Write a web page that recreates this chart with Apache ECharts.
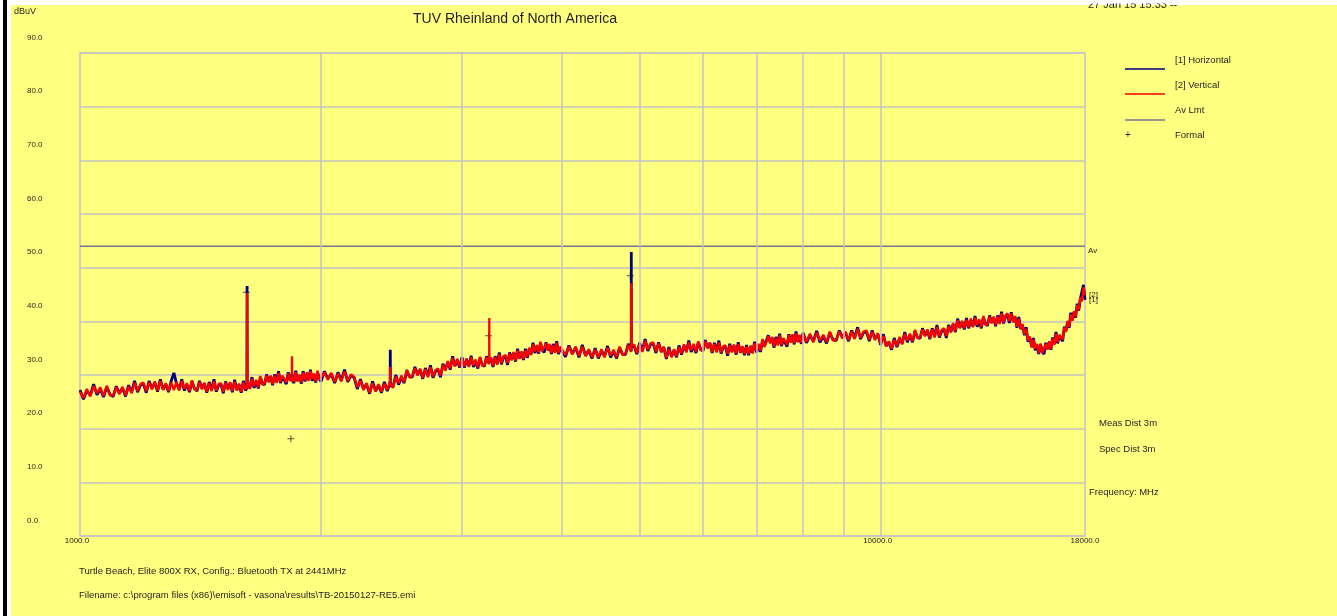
<!DOCTYPE html>
<html>
<head>
<meta charset="utf-8">
<script src="https://cdn.jsdelivr.net/npm/echarts@6/dist/echarts.min.js"></script>
<style>
  html, body { margin: 0; padding: 0; background: #ffff80; }
  #chart { width: 1337px; height: 616px; }
</style>
</head>
<body>
<div id="chart"></div>
<script>
// Sweep frequencies (MHz) shared by both polarisations
const freqs = [
  1000,1010,1020,1030,1040,1050,1060,1070,1080,1090,
  1100,1110,1120,1130,1140,1150,1160,1170,1180,1190,
  1200,1210,1220,1230,1240,1250,1260,1270,1280,1290,
  1300,1310,1320,1330,1340,1350,1360,1370,1380,1390,
  1400,1410,1420,1430,1440,1450,1460,1470,1480,1490,
  1500,1510,1520,1530,1540,1550,1560,1570,1580,1590,
  1600,1610,1616,1617,1618,1620,1630,1640,1650,1660,1670,1680,1690,
  1700,1710,1720,1730,1740,1750,1760,1770,1780,1790,
  1800,1810,1820,1830,1839,1840,1841,1850,1860,1870,1880,1890,
  1900,1910,1920,1930,1940,1950,1960,1970,1980,1990,
  2000,2020,2040,2060,2080,2100,2120,2140,2160,2180,
  2200,2220,2240,2260,2280,2300,2320,2340,2360,2380,
  2400,2420,2440,2441,2442,2460,2480,2500,2520,2540,2560,2580,
  2600,2620,2640,2660,2680,2700,2720,2740,2760,2780,
  2800,2820,2840,2860,2880,2900,2920,2940,2960,2980,
  3000,3020,3040,3060,3080,3100,3120,3140,3160,3180,
  3200,3220,3240,3244,3245,3246,3260,3280,3300,3320,3340,3360,3380,
  3400,3420,3440,3460,3480,3500,3520,3540,3560,3580,
  3600,3620,3640,3660,3680,3700,3720,3740,3760,3780,
  3800,3820,3840,3860,3880,3900,3920,3940,3960,3980,
  4000,4040,4080,4120,4160,4200,4240,4280,4320,4360,
  4400,4440,4480,4520,4560,4600,4640,4680,4720,4760,
  4800,4840,4880,4881,4882,4883,4920,4960,5000,5040,5080,5120,5160,
  5200,5240,5280,5320,5360,5400,5440,5480,5520,5560,
  5600,5640,5680,5720,5760,5800,5840,5880,5920,5960,
  6000,6040,6080,6120,6160,6200,6240,6280,6320,6360,
  6400,6440,6480,6520,6560,6600,6640,6680,6720,6760,
  6800,6840,6880,6920,6960,7000,7040,7080,7120,7160,
  7200,7240,7280,7320,7360,7400,7440,7480,7520,7560,
  7600,7640,7680,7720,7760,7800,7840,7880,7920,7960,
  8000,8080,8160,8240,8320,8400,8480,8560,8640,8720,
  8800,8880,8960,9040,9120,9200,9280,9360,9440,9520,
  9600,9680,9760,9840,9920,10000,10080,10160,10240,10320,
  10400,10480,10560,10640,10720,10800,10880,10960,11040,11120,
  11200,11280,11360,11440,11520,11600,11680,11760,11840,11920,
  12000,12080,12160,12240,12320,12400,12480,12560,12640,12720,
  12800,12880,12960,13040,13120,13200,13280,13360,13440,13520,
  13600,13680,13760,13840,13920,14000,14080,14160,14240,14320,
  14400,14480,14560,14640,14720,14800,14880,14960,15040,15120,
  15200,15280,15360,15440,15520,15600,15680,15760,15840,15920,
  16000,16080,16160,16240,16320,16400,16480,16560,16640,16720,
  16800,16880,16960,17040,17120,17200,17280,17360,17440,17520,
  17600,17680,17760,17840,17920,18000
];

// [1] Horizontal, dBuV
const horizontal = [
  27.2,25.5,27.1,26.2,28.3,26.3,27.4,25.9,27.8,26.4,
  26.0,27.9,26.6,27.6,26.0,28.1,26.8,28.9,26.8,28.1,
  28.4,26.7,28.9,27.5,28.6,26.9,29.2,27.3,28.3,26.8,
  28.9,30.4,28.4,27.3,29.2,27.1,28.2,26.8,28.8,27.5,
  27.0,28.9,27.5,28.4,26.7,28.7,27.2,29.2,26.9,28.1,
  28.3,26.6,28.8,27.4,28.5,26.8,29.1,27.2,28.2,26.7,
  28.9,27.1,27.6,46.6,28.0,28.6,27.6,29.6,27.6,28.8,27.5,29.6,28.4,
  28.2,30.1,28.8,29.7,28.1,30.1,28.7,30.7,28.5,29.7,
  30.0,28.3,30.5,29.1,29.4,30.2,29.0,28.5,30.8,28.9,29.9,28.4,
  30.7,28.8,30.2,29.1,31.0,28.9,30.0,28.6,30.6,29.3,
  28.8,30.7,29.3,30.2,28.5,30.5,29.0,31.0,28.7,29.9,
  29.5,27.4,29.2,27.4,28.3,26.5,28.8,27.0,28.1,26.7,
  28.7,27.0,28.6,34.7,28.0,27.8,30.0,28.2,29.6,28.5,30.8,29.7,
  29.6,31.5,30.1,31.0,29.3,31.3,29.8,31.8,29.5,30.7,
  31.0,29.6,32.1,31.0,32.4,31.0,33.5,31.7,32.8,31.4,
  33.3,31.4,32.8,31.7,33.6,31.5,32.6,31.2,33.2,31.9,
  31.6,33.5,32.2,32.6,32.9,32.4,33.1,31.5,33.5,32.1,34.2,32.0,33.3,
  33.5,31.9,34.2,32.9,34.1,32.5,34.9,33.1,34.2,32.8,
  34.9,33.2,34.8,33.9,36.0,34.1,35.3,34.0,36.0,34.6,
  34.2,36.1,34.7,35.6,33.9,35.8,34.3,36.3,33.9,35.1,
  35.2,33.4,35.5,34.0,35.1,33.3,35.6,33.6,34.6,33.1,
  35.0,33.1,34.5,33.5,35.4,33.3,34.4,33.1,35.1,33.9,
  33.8,35.8,34.5,34.9,52.9,35.2,35.5,33.9,36.0,34.5,36.7,34.5,35.7,
  35.9,34.1,36.1,34.4,35.1,33.0,35.2,33.4,34.6,33.3,
  35.5,33.8,35.4,34.4,36.4,34.3,35.5,34.1,36.1,34.8,
  34.5,36.5,35.1,35.9,34.1,36.0,34.4,36.4,34.0,35.2,
  35.3,33.6,35.8,34.4,35.5,33.8,36.1,34.2,35.2,33.7,
  35.6,33.7,35.2,34.2,36.2,34.2,35.5,34.3,36.5,35.4,
  35.3,37.4,36.1,36.9,35.1,37.1,35.7,37.7,35.4,36.7,
  36.9,35.3,37.6,36.2,37.4,35.7,38.1,36.2,37.3,35.8,
  37.9,36.0,37.4,36.3,38.2,36.1,37.2,35.9,37.9,36.6,
  36.4,38.3,37.0,37.9,36.3,38.3,36.9,38.9,36.7,37.9,
  38.1,36.3,38.3,36.7,37.6,35.6,37.6,35.4,36.1,34.7,
  36.9,35.2,36.8,35.9,38.0,36.1,37.4,36.1,38.2,37.0,
  36.8,38.7,37.4,38.3,36.7,38.7,37.2,39.3,37.0,38.2,
  38.5,36.9,39.3,38.1,39.5,38.0,40.5,38.8,39.9,38.5,
  40.6,38.7,40.2,39.1,41.0,39.0,40.1,38.7,40.8,39.5,
  39.2,41.1,39.8,40.7,39.1,41.1,39.7,41.8,39.6,40.9,
  41.3,39.7,41.7,40.0,40.8,38.8,40.8,38.6,39.3,37.4,
  38.9,36.2,36.9,35.3,36.9,34.6,35.5,33.9,35.7,34.3,
  33.9,36.0,34.9,36.1,34.7,37.0,35.8,38.0,35.9,37.3,
  37.6,36.3,39.0,38.2,39.9,38.8,41.6,40.2,41.7,40.7,
  43.3,42.0,44.2,43.9,46.8,44.0
];

// [2] Vertical, dBuV
const vertical = [
  26.9,25.7,27.4,26.0,28.0,26.6,27.7,26.1,28.0,26.2,
  26.2,27.7,26.4,27.8,26.2,27.9,26.6,28.6,27.0,28.3,
  28.6,27.0,28.7,27.3,28.8,27.1,28.9,27.2,28.5,27.0,
  28.6,27.2,28.7,27.1,28.9,27.4,28.5,27.0,29.0,27.3,
  27.2,28.7,27.3,28.6,26.9,28.5,27.0,28.9,27.1,28.3,
  28.5,26.9,28.6,27.2,28.7,27.0,28.8,27.1,28.4,26.9,
  28.6,27.3,27.8,45.3,28.4,28.9,27.4,29.3,27.9,29.1,27.7,29.8,28.2,
  28.4,29.9,28.6,29.9,28.3,29.9,28.5,30.4,28.7,29.9,
  30.2,28.6,30.3,28.9,29.6,33.5,29.2,28.7,30.5,28.8,30.1,28.6,
  30.4,29.0,30.5,28.9,30.7,29.2,30.3,28.8,30.8,29.1,
  29.0,30.5,29.1,30.4,28.7,30.3,28.8,30.7,28.9,30.1,
  29.7,27.7,29.0,27.2,28.5,26.7,28.5,26.9,28.3,26.9,
  28.4,27.2,28.9,31.5,28.3,27.6,29.7,28.5,29.9,28.7,31.0,29.5,
  29.8,31.3,29.9,31.2,29.5,31.1,29.6,31.5,29.7,30.9,
  31.2,29.9,31.9,30.8,32.6,31.2,33.2,31.6,33.0,31.6,
  33.0,31.6,33.1,31.5,33.3,31.8,32.9,31.4,33.4,31.7,
  31.8,33.3,32.0,32.8,40.6,32.6,33.3,31.7,33.3,31.9,33.9,32.2,33.5,
  33.7,32.2,34.0,32.7,34.3,32.7,34.6,33.0,34.4,33.0,
  34.6,33.4,35.1,33.7,35.7,34.4,35.6,34.2,36.2,34.4,
  34.4,35.9,34.5,35.8,34.1,35.6,34.1,36.0,34.1,35.3,
  35.4,33.7,35.3,33.8,35.3,33.5,35.3,33.5,34.8,33.3,
  34.7,33.3,34.8,33.3,35.1,33.6,34.7,33.3,35.3,33.7,
  34.0,35.6,34.3,35.1,47.1,35.4,35.7,34.1,35.8,34.3,36.4,34.7,35.9,
  36.1,34.4,35.9,34.2,35.3,33.2,34.9,33.3,34.8,33.5,
  35.2,34.0,35.7,34.2,36.1,34.6,35.8,34.3,36.3,34.6,
  34.7,36.3,34.9,36.1,34.3,35.8,34.2,36.1,34.2,35.4,
  35.5,33.9,35.6,34.2,35.7,34.0,35.8,34.1,35.4,33.9,
  35.3,33.9,35.5,34.0,35.9,34.5,35.8,34.5,36.7,35.2,
  35.5,37.2,35.9,37.1,35.3,36.9,35.5,37.4,35.6,36.9,
  37.1,35.6,37.4,36.0,37.6,35.9,37.8,36.1,37.5,36.0,
  37.6,36.2,37.7,36.1,37.9,36.4,37.5,36.1,38.1,36.4,
  36.6,38.1,36.8,38.1,36.5,38.1,36.7,38.6,36.9,38.1,
  38.3,36.6,38.1,36.5,37.8,35.8,37.3,35.3,36.3,34.9,
  36.6,35.4,37.1,35.7,37.7,36.4,37.7,36.3,38.4,36.8,
  37.0,38.5,37.2,38.5,36.9,38.5,37.0,39.0,37.2,38.4,
  38.7,37.2,39.1,37.9,39.7,38.2,40.2,38.7,40.1,38.7,
  40.3,38.9,40.5,38.9,40.7,39.3,40.4,38.9,41.0,39.3,
  39.4,40.9,39.6,40.9,39.3,40.9,39.5,41.5,39.8,41.1,
  41.5,40.0,41.5,39.8,41.0,39.0,40.5,38.5,39.5,37.6,
  38.6,36.4,37.2,35.1,36.6,34.9,35.8,34.1,35.9,34.1,
  34.1,35.8,34.7,36.3,34.9,36.8,35.6,37.7,36.1,37.5,
  37.8,36.6,38.8,38.0,40.1,39.0,41.3,40.1,41.9,40.9,
  43.0,42.2,44.5,43.7,46.4,44.9
];

// Average limit (dBuV) and formal measurement points
const avLimit = 54;
const formalFreqs = [1614, 1834, 3238, 4868];
const formalLevels = [45.4, 18.1, 37.3, 48.5];

// Axis ticks and grid
const gridFreqs = [2000, 3000, 4000, 5000, 6000, 7000, 8000, 9000, 10000];
const yTicks = [0, 10, 20, 30, 40, 50, 60, 70, 80, 90];
const yTickLabels = ['0.0', '10.0', '20.0', '30.0', '40.0', '50.0', '60.0', '70.0', '80.0', '90.0'];
const xTicks = [1000, 10000, 18000];
const xTickLabels = ['1000.0', '10000.0', '18000.0'];

if (horizontal.length !== freqs.length || vertical.length !== freqs.length) {
  console.error('length mismatch', freqs.length, horizontal.length, vertical.length);
}

const FONT = '"Liberation Sans", Arial, Helvetica, sans-serif';
const TEXT = '#1e1e1e';
const GRID = '#c4c4c4';
const PLUS = 'path://M3,0h1v3h3v1h-3v3h-1v-3h-3v-1h3z';

const chart = echarts.init(document.getElementById('chart'), null, { renderer: 'canvas' });

chart.setOption({
  backgroundColor: '#ffff80',
  animation: false,
  grid: {
    left: 80, right: 252, top: 53, bottom: 80,
    show: true, borderColor: GRID, borderWidth: 1.5, backgroundColor: 'transparent'
  },
  xAxis: {
    type: 'log', logBase: 10, min: 1000, max: 18000,
    axisLine: { show: false }, axisTick: { show: false },
    axisLabel: { show: false }, splitLine: { show: false }
  },
  yAxis: {
    type: 'value', min: 0, max: 90, interval: 10,
    axisLine: { show: false }, axisTick: { show: false },
    axisLabel: { show: false },
    splitLine: { show: true, lineStyle: { color: GRID, width: 1.5 } }
  },
  series: [
    {
      name: 'Av Lmt', type: 'line', silent: true,
      data: [[1000, avLimit], [18000, avLimit]],
      symbol: 'none',
      lineStyle: { color: '#76768c', width: 1.5 },
      markLine: {
        silent: true, symbol: ['none', 'none'],
        label: { show: false },
        lineStyle: { color: GRID, width: 1.5, type: 'solid' },
        data: gridFreqs.map(f => ({ xAxis: f }))
      }
    },
    {
      name: '[1] Horizontal', type: 'line', silent: true,
      data: freqs.map((f, i) => [f, horizontal[i]]),
      symbol: 'none', sampling: null,
      lineStyle: { color: '#000080', width: 2.8 }
    },
    {
      name: '[2] Vertical', type: 'line', silent: true,
      data: freqs.map((f, i) => [f, vertical[i]]),
      symbol: 'none', sampling: null,
      lineStyle: { color: '#ff0000', width: 2.3 }
    },
    {
      name: 'Formal', type: 'scatter', silent: true,
      data: formalFreqs.map((f, i) => [f, formalLevels[i]]),
      symbol: PLUS, symbolSize: 7,
      itemStyle: { color: '#2a2a2a' }
    }
  ]
});

const px = (x, y) => chart.convertToPixel({ gridIndex: 0 }, [x, y]);

function txt(text, x, y, size, align, opts) {
  return Object.assign({
    type: 'text', x: x, y: y, z: 100, silent: true,
    style: {
      text: text, fill: TEXT, fontSize: size, fontFamily: FONT,
      textAlign: align || 'left', align: align || 'left',
      textVerticalAlign: 'middle', verticalAlign: 'middle'
    }
  }, opts || {});
}
function seg(x1, y1, x2, y2, color) {
  return { type: 'line', z: 100, silent: true,
    shape: { x1: x1, y1: y1, x2: x2, y2: y2 },
    style: { stroke: color, lineWidth: 1.5 } };
}

const g = [];
// page frame
g.push({ type: 'rect', z: 90, silent: true, shape: { x: 0, y: 0, width: 11, height: 616 }, style: { fill: '#ffffff' } });
g.push({ type: 'rect', z: 91, silent: true, shape: { x: 3, y: 0, width: 4, height: 616 }, style: { fill: '#000000' } });
g.push({ type: 'rect', z: 90, silent: true, shape: { x: 0, y: 0, width: 1337, height: 5 }, style: { fill: '#ffffff' } });

// titles
g.push(txt('TUV Rheinland of North America', 515, 19, 14, 'center'));
g.push(txt('27 Jan 15 15:33 --', 1088, 5, 11, 'left'));
g.push({ type: 'rect', z: 101, silent: true, shape: { x: 1080, y: 0, width: 110, height: 3.5 }, style: { fill: '#ffffff' } });
g.push(txt('dBuV', 14, 12, 9, 'left'));

// y tick labels (printed a little above their grid lines)
yTicks.forEach((v, i) => {
  const p = px(1000, v);
  g.push(txt(yTickLabels[i], 27, p[1] - 15.5, 8, 'left'));
});
// x tick labels
xTicks.forEach((f, i) => {
  const p = px(f, 0);
  g.push(txt(xTickLabels[i], p[0] - (i < 2 ? 3 : 0), 541, 8, 'center'));
});

// right-hand annotations
const lim = px(18000, avLimit);
g.push(txt('Av', 1088, lim[1] + 5, 8, 'left'));
const endV = px(18000, vertical[vertical.length - 1]);
const endH = px(18000, horizontal[horizontal.length - 1]);
g.push(txt('[2]', 1089, endV[1], 8, 'left'));
g.push(txt('[1]', 1089, endH[1], 8, 'left'));
g.push(txt('Meas Dist 3m', 1099, 423, 9.5, 'left'));
g.push(txt('Spec Dist 3m', 1099, 449, 9.5, 'left'));
g.push(txt('Frequency: MHz', 1089, 492, 9.5, 'left'));

// legend
g.push(txt('[1] Horizontal', 1175, 60, 9.5, 'left'));
g.push(seg(1125, 69, 1165, 69, '#000080'));
g.push(txt('[2] Vertical', 1175, 85, 9.5, 'left'));
g.push(seg(1125, 94, 1165, 94, '#ff0000'));
g.push(txt('Av Lmt', 1175, 110, 9.5, 'left'));
g.push(seg(1125, 120, 1165, 120, '#76768c'));
g.push(txt('Formal', 1175, 135, 9.5, 'left'));
g.push(txt('+', 1128, 135, 10, 'center'));

// footer
g.push(txt('Turtle Beach, Elite 800X RX, Config.: Bluetooth TX at 2441MHz', 79, 571, 9.5, 'left'));
g.push(txt('Filename: c:\\program files (x86)\\emisoft - vasona\\results\\TB-20150127-RE5.emi', 79, 595, 9.5, 'left'));

chart.setOption({ graphic: g });
</script>
</body>
</html>
